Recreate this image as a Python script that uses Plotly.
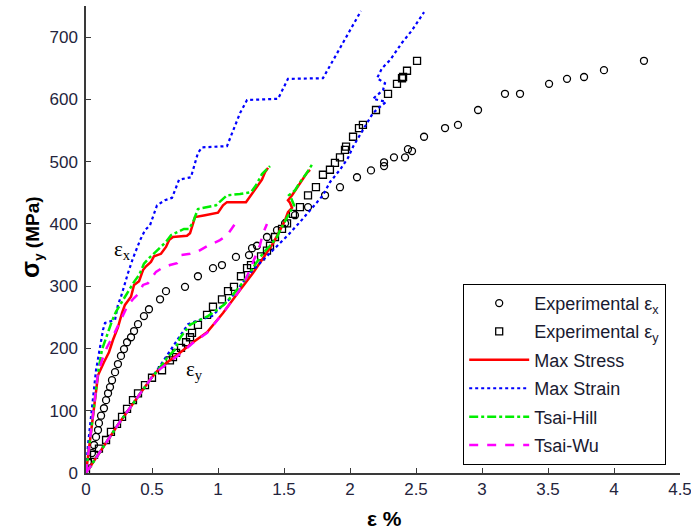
import plotly.graph_objects as go

# ---------------- data ----------------
exp_x_strain = [0.015,0.045,0.061,0.076,0.091,0.098,0.114,0.136,0.152,0.167,0.182,0.197,0.22,0.242,0.265,0.288,0.311,0.341,0.364,0.394,0.439,0.477,0.561,0.606,0.75,0.848,0.962,1.03,1.136,1.235,1.258,1.295,1.371,1.447,1.508,1.583,1.682,1.811,1.924,2.053,2.159,2.258,2.258,2.333,2.417,2.439,2.47,2.561,2.72,2.818,2.97,3.174,3.288,3.508,3.644,3.773,3.924,4.227]
exp_x_stress = [18,32,45,58,69,80,92,104,117,128,138,149,162,175,188,199,210,218,228,239,252,263,279,292,299,316,329,334,347,350,361,365,379,390,401,414,427,446,459,475,486,493,499,507,507,520,517,540,554,559,583,609,609,625,633,636,647,662]

exp_y_strain = [0,0.015,0.061,0.098,0.152,0.189,0.235,0.273,0.311,0.356,0.394,0.447,0.5,0.576,0.636,0.659,0.682,0.72,0.758,0.788,0.803,0.848,0.917,0.962,1.03,1.076,1.121,1.174,1.22,1.25,1.326,1.371,1.394,1.432,1.485,1.523,1.568,1.621,1.682,1.742,1.795,1.848,1.886,1.924,1.962,1.97,2.023,2.068,2.098,2.197,2.288,2.356,2.394,2.402,2.432,2.508]
exp_y_stress = [0,16,29,39,53,66,79,90,103,117,128,141,153,165,181,186,193,201,210,218,225,238,254,267,279,292,299,316,329,334,348,357,365,379,392,401,416,427,446,459,479,487,498,507,519,524,540,554,559,583,609,625,634,636,646,662]

maxstress_x_strain = [0,0.091,0.136,0.174,0.205,0.242,0.273,0.295,0.341,0.364,0.402,0.432,0.455,0.492,0.515,0.568,0.606,0.629,0.659,0.765,0.788,0.826,0.902,1.0,1.038,1.068,1.212,1.235,1.28,1.333,1.356,1.379]
maxstress_x_stress = [0,157,178,194,214,234,257,270,283,302,308,326,332,339,348,352,363,374,379,381,385,411,414,418,430,435,435,442,454,471,483,490]
maxstress_y_strain = [0,0.25,0.5,0.561,0.712,0.811,0.917,1.038,1.167,1.265,1.341,1.417,1.47,1.508,1.53,1.561,1.545,1.53,1.561,1.621,1.674,1.697]
maxstress_y_stress = [0,80,154,169,193,210,226,257,294,321,345,369,390,406,419,426,434,438,446,466,482,487]

maxstrain_x_strain = [0,0.015,0.076,0.129,0.144,0.22,0.242,0.265,0.318,0.356,0.41,0.447,0.485,0.538,0.598,0.652,0.705,0.795,0.848,0.879,1.068,1.167,1.22,1.455,1.53,1.795,2.083]
maxstrain_x_stress = [0,45,165,230,241,246,270,283,321,345,374,390,398,430,438,442,471,475,514,523,525,578,599,601,633,634,742]
maxstrain_y_strain = [0,0.25,0.5,0.561,0.712,0.773,0.864,0.955,1.03,1.106,1.242,1.341,1.447,1.53,1.621,1.72,1.795,1.848,1.924,1.985,2.023,2.098,2.174,2.227,2.273,2.174,2.25,2.265,2.205,2.242,2.303,2.394,2.47,2.561]
maxstrain_y_stress = [0,80,154,172,220,239,246,252,268,283,321,342,363,382,403,427,446,467,487,506,524,551,578,588,596,601,615,626,634,650,663,691,711,740]

tsaihill_x_strain = [0,0.091,0.121,0.152,0.174,0.197,0.227,0.273,0.303,0.341,0.364,0.402,0.439,0.477,0.538,0.606,0.644,0.689,0.742,0.78,0.811,0.848,0.917,0.985,1.068,1.167,1.25,1.288,1.333,1.394]
tsaihill_x_stress = [0,161,198,217,230,244,259,275,286,299,307,318,336,345,358,371,382,387,392,392,403,424,427,430,446,448,451,462,480,493]
tsaihill_y_strain = [0,0.25,0.5,0.545,0.614,0.674,0.712,0.742,0.788,0.864,0.924,0.992,1.045,1.144,1.22,1.295,1.341,1.394,1.447,1.477,1.5,1.545,1.576,1.553,1.538,1.583,1.621,1.667,1.72]
tsaihill_y_stress = [0,80,154,165,185,198,217,226,238,246,252,262,270,294,315,339,353,365,379,393,401,419,430,442,446,454,467,480,498]

tsaiwu_x_strain = [0,0.091,0.121,0.159,0.205,0.242,0.28,0.318,0.364,0.394,0.432,0.47,0.53,0.576,0.636,0.689,0.72,0.788,0.841,0.879,0.924,1.015,1.068,1.106,1.129]
tsaiwu_x_stress = [0,161,181,202,220,236,254,270,281,287,302,305,323,329,334,337,350,352,355,360,365,374,382,393,400]
tsaiwu_y_strain = [0,0.25,0.5,0.561,0.712,0.811,0.917,1.038,1.129,1.189,1.235,1.265,1.295,1.318,1.341,1.371]
tsaiwu_y_stress = [0,80,154,167,191,209,225,257,283,302,323,339,355,366,385,400]

x_ticks = [0, 0.5, 1, 1.5, 2, 2.5, 3, 3.5, 4, 4.5]
x_tick_labels = ["0", "0.5", "1", "1.5", "2", "2.5", "3", "3.5", "4", "4.5"]
y_ticks = [0, 100, 200, 300, 400, 500, 600, 700]

# ---------------- figure ----------------
fig = go.Figure()

fig.add_trace(go.Scatter(x=exp_x_strain, y=exp_x_stress, mode="markers",
                         name="Experimental ε<sub>x</sub>", legendgroup="ex",
                         marker=dict(symbol="circle-open", size=7, color="black", line=dict(width=1.3, color="black"))))
fig.add_trace(go.Scatter(x=exp_y_strain, y=exp_y_stress, mode="markers",
                         name="Experimental ε<sub>y</sub>", legendgroup="ey",
                         marker=dict(symbol="square-open", size=7, color="black", line=dict(width=1.3, color="black"))))

models = [
    ("Max Stress", "ms", "#ff0000", "solid", 2.5, maxstress_x_strain, maxstress_x_stress, maxstress_y_strain, maxstress_y_stress),
    ("Max Strain", "mn", "#0000ff", "dot", 2.2, maxstrain_x_strain, maxstrain_x_stress, maxstrain_y_strain, maxstrain_y_stress),
    ("Tsai-Hill", "th", "#00ee00", "dashdot", 2.5, tsaihill_x_strain, tsaihill_x_stress, tsaihill_y_strain, tsaihill_y_stress),
    ("Tsai-Wu", "tw", "#ff00ff", "dash", 2.5, tsaiwu_x_strain, tsaiwu_x_stress, tsaiwu_y_strain, tsaiwu_y_stress),
]
for name, grp, col, dash, w, xs1, ys1, xs2, ys2 in models:
    fig.add_trace(go.Scatter(x=xs1, y=ys1, mode="lines", name=name, legendgroup=grp,
                             line=dict(color=col, dash=dash, width=w)))
    fig.add_trace(go.Scatter(x=xs2, y=ys2, mode="lines", name=name, legendgroup=grp, showlegend=False,
                             line=dict(color=col, dash=dash, width=w)))

tick_font = dict(family="Arial, Liberation Sans, sans-serif", size=17, color="#24243c")

fig.update_layout(
    width=691, height=529,
    margin=dict(l=86, r=11, t=6, b=56),
    paper_bgcolor="white", plot_bgcolor="white",
    showlegend=True,
    legend=dict(x=0.635, y=0.405, xanchor="left", yanchor="top",
                bgcolor="white", bordercolor="black", borderwidth=1,
                font=dict(family="Arial, Liberation Sans, sans-serif", size=18, color="#1a1a30"),
                tracegroupgap=2, itemwidth=60),
    xaxis=dict(range=[0, 4.5], tickvals=x_ticks, ticktext=x_tick_labels,
               showline=True, linecolor="#3a3a3a", linewidth=1.5, mirror=False,
               ticks="inside", ticklen=5, tickwidth=1.2, tickcolor="#3a3a3a",
               showgrid=False, zeroline=False, tickfont=tick_font, automargin=False,
               ticklabeloverflow="allow"),
    yaxis=dict(range=[0, 750], tickvals=y_ticks,
               showline=True, linecolor="#3a3a3a", linewidth=1.5, mirror=False,
               ticks="inside", ticklen=5, tickwidth=1.2, tickcolor="#3a3a3a",
               showgrid=False, zeroline=False, tickfont=tick_font, ticklabelstandoff=3,
               automargin=False),
    annotations=[
        dict(text="<b>ε %</b>", xref="paper", yref="paper", x=0.503, y=-0.098,
             xanchor="center", yanchor="middle", showarrow=False,
             font=dict(family="Arial, Liberation Sans, sans-serif", size=21, color="black")),
        dict(text="<b><span style='font-size:25px'>σ</span><sub>y</sub><span style='font-size:19px'> (MPa)</span></b>",
             xref="paper", yref="paper",
             x=-0.093, y=0.505, textangle=-90, xanchor="center", yanchor="middle", showarrow=False,
             font=dict(family="Arial, Liberation Sans, sans-serif", size=19, color="black")),
        dict(text="ε<sub>x</sub>", xref="x", yref="y", x=0.28, y=358, showarrow=False,
             font=dict(family="Liberation Serif, Times New Roman, serif", size=21, color="black")),
        dict(text="ε<sub>y</sub>", xref="x", yref="y", x=0.82, y=166, showarrow=False,
             font=dict(family="Liberation Serif, Times New Roman, serif", size=21, color="black")),
    ],
)

fig.write_html("out.html", config={"displayModeBar": False},
               post_script="document.body.style.margin='0px';document.body.style.overflow='hidden';")
